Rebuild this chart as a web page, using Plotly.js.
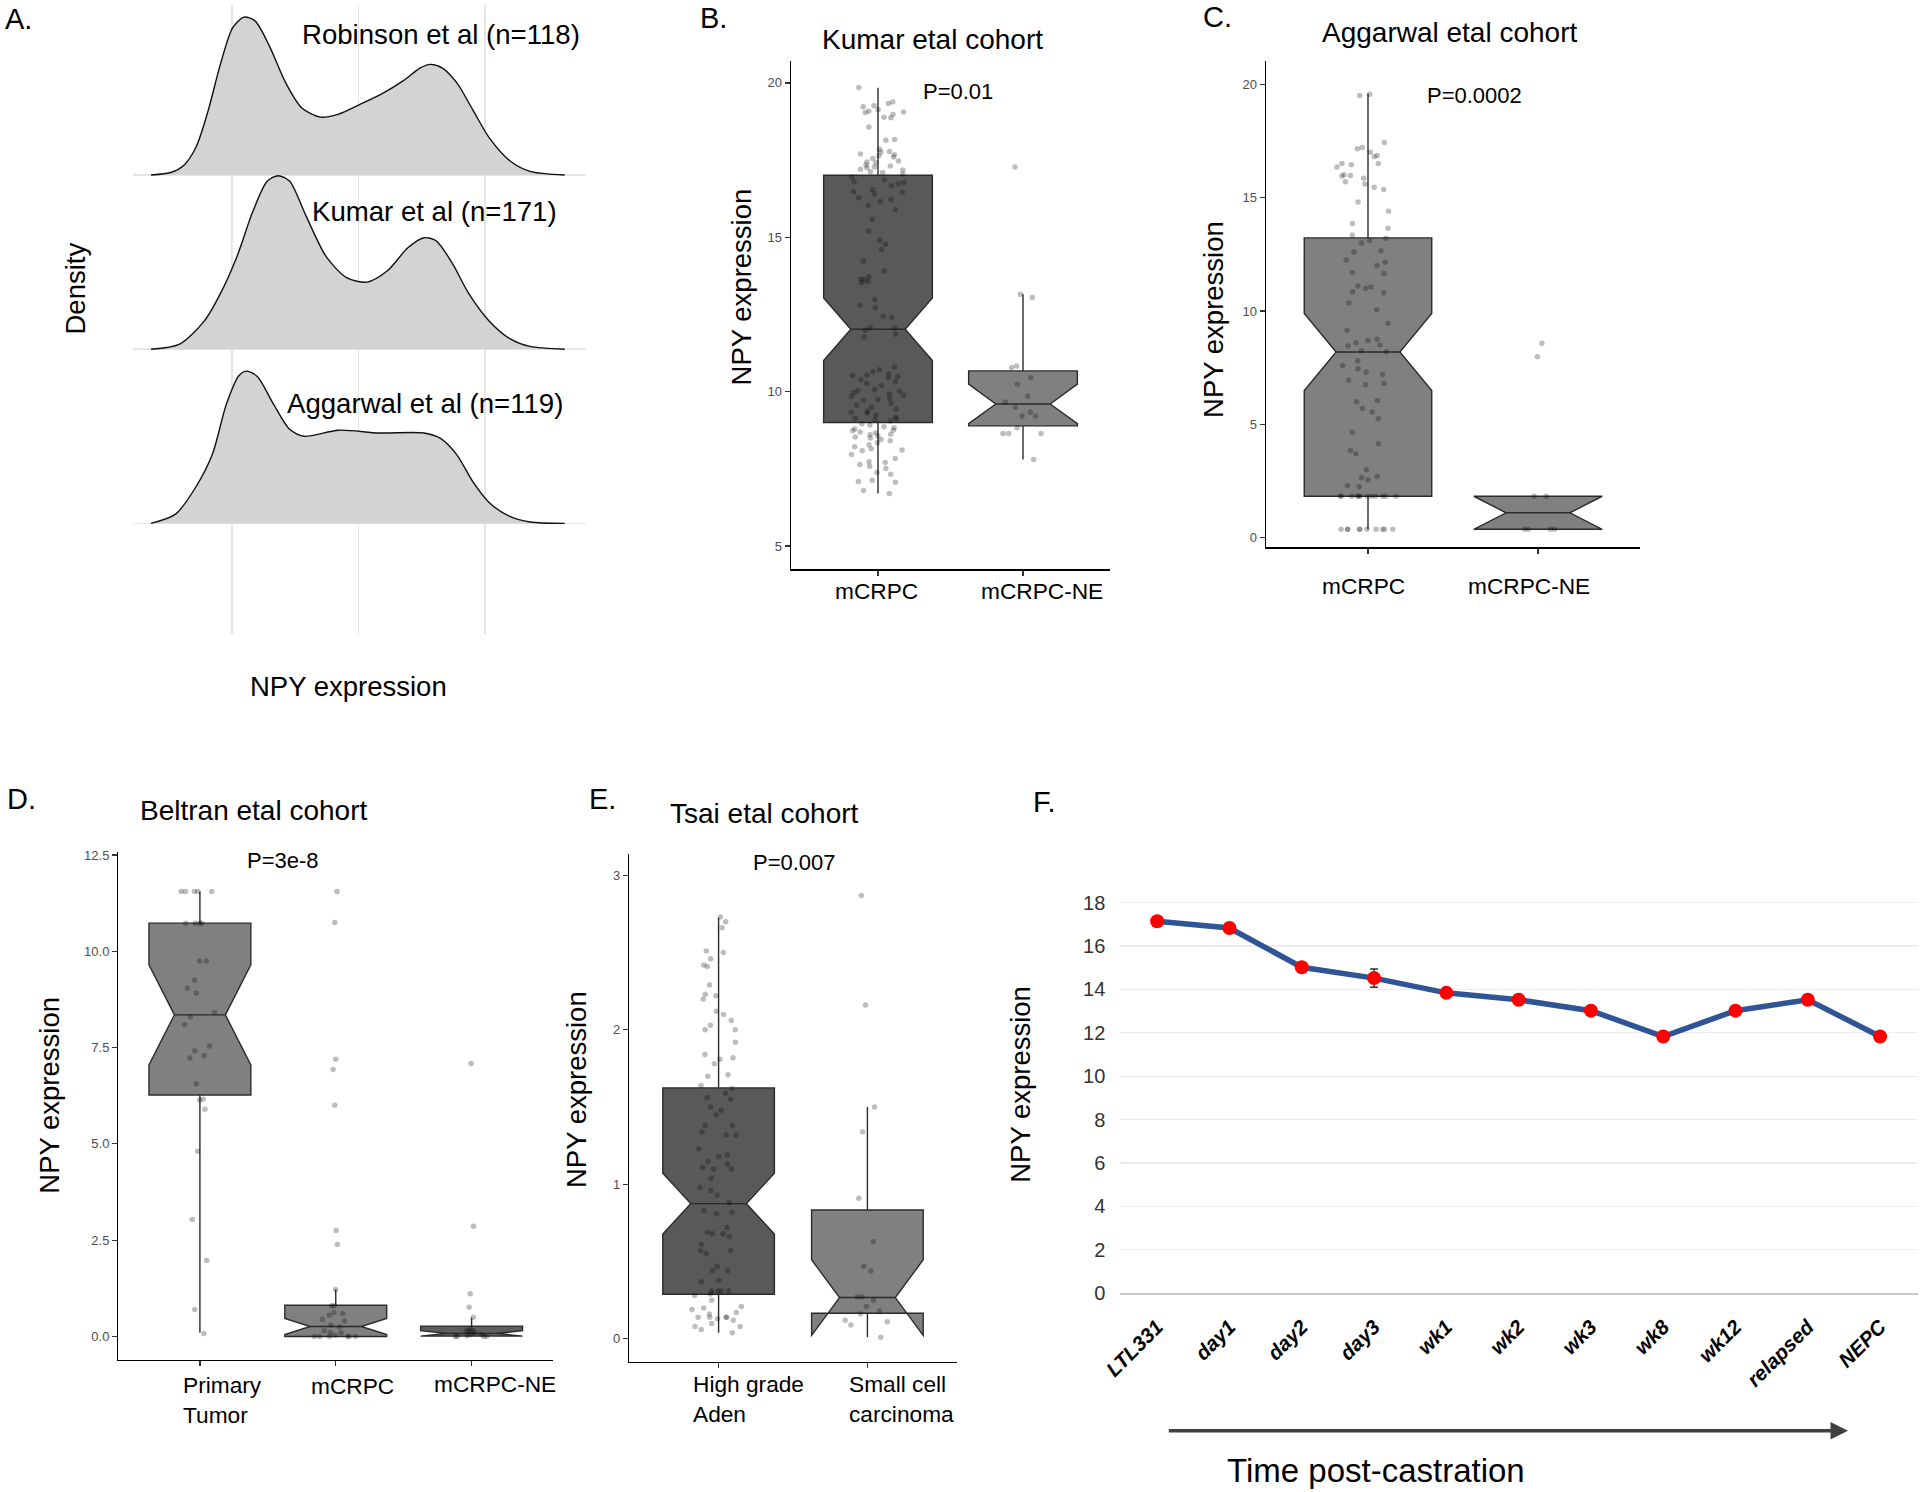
<!DOCTYPE html>
<html><head><meta charset="utf-8">
<script src="https://cdn.plot.ly/plotly-3.0.1.min.js"></script>
<style>html,body{margin:0;padding:0;background:#fff}#chart{width:1920px;height:1492px}</style>
</head><body><div id="chart"></div>
<script>
// ---------- Panel A: density ridges (x in NPY units, height in ridge units) ----------
const robinsonX = [1.80, 2.61, 3.09, 3.58, 4.06, 4.54, 5.03, 5.47, 5.91, 6.48, 7.12, 7.76, 8.49, 9.21, 10.02, 10.90, 11.79, 12.43, 12.84, 13.32, 13.88, 14.53, 15.17, 15.98, 16.78, 18.15];
const robinsonD = [0, 0.016, 0.055, 0.161, 0.371, 0.635, 0.846, 0.906, 0.885, 0.740, 0.530, 0.385, 0.332, 0.350, 0.403, 0.464, 0.543, 0.614, 0.635, 0.614, 0.530, 0.371, 0.213, 0.082, 0.021, 0];
const kumarX = [1.80, 2.93, 3.90, 4.54, 5.19, 5.83, 6.39, 6.83, 7.28, 7.92, 8.73, 9.53, 10.34, 11.14, 11.95, 12.59, 13.07, 13.72, 14.36, 15.17, 15.98, 16.78, 18.15];
const kumarD = [0, 0.029, 0.161, 0.319, 0.530, 0.793, 0.964, 0.996, 0.964, 0.767, 0.530, 0.411, 0.385, 0.450, 0.582, 0.640, 0.622, 0.490, 0.319, 0.161, 0.061, 0.016, 0];
const aggarwalX = [1.80, 2.77, 3.58, 4.22, 4.78, 5.27, 5.59, 6.00, 6.64, 7.28, 7.85, 9.21, 10.82, 12.59, 13.24, 13.88, 14.53, 15.17, 15.98, 16.78, 18.15];
const aggarwalD = [0, 0.053, 0.211, 0.395, 0.685, 0.848, 0.874, 0.843, 0.685, 0.540, 0.500, 0.535, 0.519, 0.519, 0.488, 0.395, 0.237, 0.119, 0.040, 0.008, 0];
const ridgeLabels = ['Robinson et al (n=118)', 'Kumar et al (n=171)', 'Aggarwal et al (n=119)'];

// ---------- Panel B: Kumar cohort ----------
const kumarCats = ['mCRPC', 'mCRPC-NE'];
const kumarStats = { // q1, median, q3, lower, upper, notch half-span
  'mCRPC':    [9.00, 12.02, 17.01, 6.70, 19.84, 1.01],
  'mCRPC-NE': [8.89, 9.60, 10.67, 7.80, 13.15, 0.64]
};
const kumarPts_mCRPC = [19.85, 19.38, 19.33, 19.26, 19.23, 19.13, 19.08, 19.06, 19.04, 18.98, 18.89, 18.87, 18.57, 18.17, 18.14, 17.85, 17.78, 17.76, 17.70, 17.67, 17.64, 17.60, 17.55, 17.47, 17.44, 17.41, 17.34, 17.31, 17.28, 17.25, 17.20, 17.18, 17.12, 17.10, 17.05,
  16.95, 16.86, 16.80, 16.77, 16.73, 16.67, 16.54, 16.48, 16.45, 16.41, 16.28, 16.22, 16.16, 16.03, 15.90, 15.58, 15.20, 14.90, 14.77, 14.60, 14.23, 13.91, 13.72, 13.65, 13.62, 13.57, 13.53, 12.98, 12.80, 12.72, 12.44, 12.40, 12.08, 12.05, 11.99,
  11.86, 11.77, 10.80, 10.71, 10.64, 10.58, 10.54, 10.52, 10.49, 10.45, 10.39, 10.33, 10.26, 10.20, 10.07, 10.03, 10.01, 9.97, 9.92, 9.88, 9.84, 9.78, 9.75, 9.72, 9.62, 9.56, 9.49, 9.43, 9.37, 9.33, 9.30, 9.24, 9.17, 9.14, 9.11, 9.09, 9.05,
  8.96, 8.92, 8.86, 8.83, 8.79, 8.75, 8.73, 8.69, 8.66, 8.62, 8.60, 8.56, 8.53, 8.50, 8.45, 8.41, 8.34, 8.28, 8.21, 8.15, 8.11, 8.08, 7.96, 7.83, 7.73, 7.70, 7.64, 7.58, 7.51, 7.38, 7.32, 7.13, 7.09, 7.06, 6.80, 6.70];
const kumarPts_NE = [17.28, 13.15, 13.05, 10.83, 10.78, 10.45, 10.24, 9.85, 9.66, 9.49, 9.33, 9.21, 9.21, 8.83, 8.64, 8.64, 8.64, 7.80];

// ---------- Panel C: Aggarwal cohort ----------
const aggCats = ['mCRPC', 'mCRPC-NE'];
const aggStats = {
  'mCRPC':    [1.83, 8.19, 13.22, 0.375, 19.58, 1.70],
  'mCRPC-NE': [0.375, 1.10, 1.83, 0.375, 1.83, 0.72]
};
const aggPts_mCRPC = [19.55, 19.50, 17.43, 17.20, 17.15, 17.00, 16.85, 16.80, 16.50, 16.50, 16.45, 16.35, 16.00, 15.97, 15.95, 15.85, 15.70, 15.60, 15.45, 15.35,
  14.80, 14.40, 13.85, 13.65, 13.35, 13.20, 13.10, 13.00, 12.65, 12.60, 12.25, 12.15, 12.00, 11.70, 11.65, 11.10, 11.05, 11.00,
  10.85, 10.80, 10.35, 10.05, 9.45, 9.15, 8.75, 8.70, 8.60, 8.50, 8.45, 8.25, 8.20,
  7.80, 7.60, 7.45, 7.30, 7.20, 6.95, 6.80, 6.75, 6.05, 6.00, 5.70, 5.55, 5.25,
  4.65, 4.15, 3.85, 3.70, 3.00, 2.70, 2.65, 2.55, 2.30, 2.25,
  1.83, 1.83, 1.83, 1.83, 1.83, 1.83, 1.83, 1.83, 1.83, 1.83, 1.83, 1.83,
  0.375, 0.375, 0.375, 0.375, 0.375, 0.375, 0.375, 0.375, 0.375, 0.375];
const aggPts_NE = [8.58, 7.98, 1.83, 1.83, 0.375, 0.375, 0.375, 0.375];

// ---------- Panel D: Beltran cohort ----------
const beltCats = ['Primary Tumor', 'mCRPC', 'mCRPC-NE'];
const beltLabels = ['Primary<br>Tumor', 'mCRPC', 'mCRPC-NE'];
const beltStats = {
  'Primary Tumor': [6.27, 8.35, 10.73, 0.10, 11.55, 1.30],
  'mCRPC':         [0.00, 0.26, 0.81, 0.00, 1.22, 0.21],
  'mCRPC-NE':      [0.01, 0.08, 0.27, 0.00, 0.49, 0.07]
};
const beltPts_Primary = [11.55, 11.55, 11.55, 11.55, 11.55, 10.73, 10.73, 10.73, 10.73, 9.75, 9.75, 9.25, 9.04, 8.92, 8.41, 8.30, 8.09, 7.54, 7.42, 7.29, 7.23, 6.56, 6.16, 6.14, 5.90, 4.81, 3.04, 1.97, 0.70, 0.08];
const beltPts_mCRPC = [11.55, 10.75, 7.20, 6.93, 6.00, 2.75, 2.39, 1.22, 0.80, 0.80, 0.62, 0.60, 0.55, 0.45, 0.40, 0.30, 0.25, 0.15, 0.10, 0.10, 0.03, 0, 0, 0, 0, 0, 0];
const beltPts_NE = [7.09, 2.86, 1.11, 0.76, 0.50, 0.20, 0.15, 0.15, 0.15, 0.10, 0.05, 0.05, 0.02, 0, 0, 0, 0];

// ---------- Panel E: Tsai cohort ----------
const tsaiCats = ['High grade Aden', 'Small cell carcinoma'];
const tsaiLabels = ['High grade<br>Aden', 'Small cell<br>carcinoma'];
const tsaiStats = {
  'High grade Aden':      [0.289, 0.875, 1.624, 0.04, 2.725, 0.197],
  'Small cell carcinoma': [0.166, 0.267, 0.834, 0.01, 1.50, 0.245]
};
const tsaiPts_High = [2.73, 2.70, 2.66, 2.51, 2.50, 2.46, 2.42, 2.41, 2.29, 2.23, 2.22, 2.20, 2.12, 2.10, 2.06, 2.03, 2.00, 2.00, 1.92, 1.84, 1.82, 1.81, 1.78, 1.71, 1.70, 1.64, 1.62, 1.59, 1.56, 1.55, 1.50, 1.48, 1.45, 1.38, 1.38, 1.34, 1.32, 1.32, 1.23, 1.19, 1.18, 1.15, 1.13, 1.11, 1.10, 1.10, 1.04, 0.98, 0.96, 0.93, 0.88, 0.83, 0.82, 0.81, 0.72, 0.69, 0.68, 0.68, 0.66, 0.61, 0.57, 0.57, 0.55, 0.47, 0.44, 0.44, 0.38, 0.37, 0.31, 0.31, 0.31, 0.31, 0.29, 0.28, 0.25, 0.21, 0.20, 0.19, 0.17, 0.16, 0.14, 0.14, 0.14, 0.14, 0.13, 0.12, 0.10, 0.08, 0.08, 0.06, 0.04];
const tsaiPts_Small = [2.87, 2.16, 1.50, 1.34, 0.91, 0.63, 0.47, 0.44, 0.27, 0.27, 0.25, 0.21, 0.18, 0.16, 0.12, 0.11, 0.09, 0.01];

// ---------- Panel F: time course ----------
const timeCats = ['LTL331', 'day1', 'day2', 'day3', 'wk1', 'wk2', 'wk3', 'wk8', 'wk12', 'relapsed', 'NEPC'];
const timeVals = [17.14, 16.83, 15.02, 14.52, 13.84, 13.52, 13.02, 11.83, 13.02, 13.52, 11.83];
const timeErr  = [0, 0, 0, 0.42, 0, 0, 0, 0, 0, 0, 0];

// ================= drawing =================
const FONT = 'Liberation Sans, Arial, Helvetica, sans-serif';
const W = 1920, H = 1492;
const px = v => v / W;
const py = v => 1 - v / H;
const AXT = 27.5, TTL = 28, PV = 22, CAT = 22.7;

const traces = [];

// Panel A ridges
const ridges = [[robinsonX, robinsonD, 2], [kumarX, kumarD, 1], [aggarwalX, aggarwalD, 0]];
ridges.forEach(([xs, ds, off]) => {
  const ys = ds.map(d => d + off);
  traces.push({type: 'scatter', x: xs, y: ys, xaxis: 'x', yaxis: 'y', mode: 'lines', fill: 'toself',
    fillcolor: '#d3d3d3', line: {width: 0, shape: 'spline', smoothing: 0.8}, hoverinfo: 'skip'});
  traces.push({type: 'scatter', x: xs, y: ys, xaxis: 'x', yaxis: 'y', mode: 'lines',
    line: {color: '#111', width: 1.4, shape: 'spline', smoothing: 0.8}, hoverinfo: 'skip'});
});

function addBoxes(ax, cats, stats, fills, pts) {
  cats.forEach((c, i) => {
    const s = stats[c];
    traces.push({type: 'box', xaxis: 'x' + ax, yaxis: 'y' + ax, x: [c],
      q1: [s[0]], median: [s[1]], q3: [s[2]], lowerfence: [s[3]], upperfence: [s[4]], notchspan: [s[5]],
      notched: true, notchwidth: 0.25, boxpoints: false, width: 0.75, whiskerwidth: 0,
      fillcolor: fills[i], line: {color: '#2b2b2b', width: 1.4}, hoverinfo: 'skip'});
  });
  cats.forEach((c, i) => {
    traces.push({type: 'box', xaxis: 'x' + ax, yaxis: 'y' + ax, x: Array(pts[i].length).fill(c), y: pts[i],
      boxpoints: 'all', jitter: 0.5, pointpos: 0, width: 0.75,
      fillcolor: 'rgba(0,0,0,0)', line: {color: 'rgba(0,0,0,0)', width: 0},
      marker: {size: 5.5, color: 'rgba(0,0,0,0.26)'}, hoverinfo: 'skip'});
  });
}
addBoxes(2, kumarCats, kumarStats, ['#595959', '#808080'], [kumarPts_mCRPC, kumarPts_NE]);
addBoxes(3, aggCats, aggStats, ['#808080', '#808080'], [aggPts_mCRPC, aggPts_NE]);
addBoxes(4, beltCats, beltStats, ['#808080', '#808080', '#5e5e5e'], [beltPts_Primary, beltPts_mCRPC, beltPts_NE]);
addBoxes(5, tsaiCats, tsaiStats, ['#595959', '#808080'], [tsaiPts_High, tsaiPts_Small]);

// Panel F
traces.push({type: 'scatter', xaxis: 'x6', yaxis: 'y6', x: timeCats, y: timeVals, mode: 'lines+markers',
  line: {color: '#2f5597', width: 5.5}, marker: {color: '#ff0000', size: 14},
  error_y: {type: 'data', array: timeErr, visible: true, color: '#333', thickness: 1.5, width: 4},
  cliponaxis: false, hoverinfo: 'skip'});

function boxX(dom, cats, range) {
  return {domain: dom, type: 'category', categoryorder: 'array', categoryarray: cats, range: range,
    showline: true, linecolor: '#000', linewidth: 1.4, ticks: 'outside', ticklen: 5, tickwidth: 1.2, tickcolor: '#333',
    showticklabels: false, showgrid: false, zeroline: false, fixedrange: true};
}
function boxY(dom, range, tickvals, fmt) {
  return {domain: dom, range: range, tickvals: tickvals, tickformat: fmt || '',
    showline: true, linecolor: '#000', linewidth: 1.4, ticks: 'outside', ticklen: 5, tickwidth: 1.2, tickcolor: '#333',
    tickfont: {family: FONT, size: 13, color: '#4d4d4d'}, showgrid: false, zeroline: false, fixedrange: true};
}

const layout = {
  width: W, height: H, margin: {l: 0, r: 0, t: 0, b: 0}, paper_bgcolor: '#fff', plot_bgcolor: 'rgba(0,0,0,0)',
  showlegend: false, boxmode: 'overlay', font: {family: FONT, color: '#000'},
  // A
  xaxis: {domain: [px(132.7), px(585.7)], range: [1.075, 18.98], tickvals: [5, 10, 15], showticklabels: false,
    showgrid: true, gridcolor: '#e6e6e6', gridwidth: 1.5, zeroline: false, showline: false, ticks: '', anchor: 'y'},
  yaxis: {domain: [py(633.6), py(5)], range: [-0.6326, 2.976], tickvals: [0, 1, 2], showticklabels: false,
    showgrid: true, gridcolor: '#e6e6e6', gridwidth: 1.5, zeroline: false, showline: false, ticks: '', anchor: 'x'},
  // B
  xaxis2: Object.assign(boxX([px(791), px(1110)], kumarCats, [-0.6, 1.6]), {anchor: 'y2'}),
  yaxis2: Object.assign(boxY([py(569.4), py(61)], [4.24, 20.71], [5, 10, 15, 20]), {anchor: 'x2'}),
  // C
  xaxis3: Object.assign(boxX([px(1266), px(1640)], aggCats, [-0.6, 1.6]), {anchor: 'y3'}),
  yaxis3: Object.assign(boxY([py(547.3), py(61.2)], [-0.42, 21.01], [0, 5, 10, 15, 20]), {anchor: 'x3'}),
  // D
  xaxis4: Object.assign(boxX([px(118.4), px(553.1)], beltCats, [-0.6, 2.6]), {anchor: 'y4'}),
  yaxis4: Object.assign(boxY([py(1360), py(851.5)], [-0.61, 12.59], [0, 2.5, 5, 7.5, 10, 12.5], '.1f'), {anchor: 'x4'}),
  // E
  xaxis5: Object.assign(boxX([px(629.3), px(956.7)], tsaiCats, [-0.6, 1.6]), {anchor: 'y5'}),
  yaxis5: Object.assign(boxY([py(1362), py(853.7)], [-0.15, 3.14], [0, 1, 2, 3]), {anchor: 'x5'}),
  // F
  xaxis6: {domain: [px(1120.3), px(1918.4)], anchor: 'y6', type: 'category', categoryorder: 'array', categoryarray: timeCats,
    range: [-0.51, 10.53], showline: true, linecolor: '#c8c8c8', linewidth: 1.6, ticks: '', tickangle: -45,
    ticklabelstandoff: 12, tickfont: {family: FONT, size: 20.5, color: '#000', weight: 'bold', style: 'italic'},
    showgrid: false, zeroline: false, fixedrange: true},
  yaxis6: {domain: [py(1293.2), py(901.5)], anchor: 'x6', range: [0, 18.05], tickvals: [0, 2, 4, 6, 8, 10, 12, 14, 16, 18],
    showline: false, ticks: '', ticklabelstandoff: 14, tickfont: {family: FONT, size: 20, color: '#333'},
    showgrid: true, gridcolor: '#ececec', gridwidth: 1.2, zeroline: false, fixedrange: true},
  annotations: [],
  shapes: []
};

const ann = layout.annotations;
function txt(text, x, y, size, opts) {
  ann.push(Object.assign({xref: 'paper', yref: 'paper', x: px(x), y: py(y), text: text, showarrow: false,
    xanchor: 'center', yanchor: 'middle', font: {family: FONT, size: size, color: '#000'}}, opts || {}));
}
function catLabels(axis, labels, shifts, ys, anchor) {
  labels.forEach((t, i) => ann.push({xref: axis, yref: 'paper', x: i, y: py(ys[i]), text: t, showarrow: false,
    xanchor: anchor, yanchor: 'middle', align: 'left', xshift: shifts[i], font: {family: FONT, size: CAT, color: '#000'}}));
}
// panel letters
[['A.', 18.5, 19], ['B.', 713, 18], ['C.', 1217, 17], ['D.', 21, 799], ['E.', 602, 799], ['F.', 1044, 802]]
  .forEach(([t, x, y]) => txt(t, x, y, 29));
// Panel A texts
txt(ridgeLabels[0], 581.6, 34.4, 27.6, {xanchor: 'right'});
txt(ridgeLabels[1], 559.2, 211, 27.6, {xanchor: 'right'});
txt(ridgeLabels[2], 565.3, 404, 27.6, {xanchor: 'right'});
txt('Density', 75.5, 289, AXT, {textangle: -90});
txt('NPY expression', 348, 686, AXT);
// B
txt('Kumar etal cohort', 932.5, 39.5, TTL);
txt('P=0.01', 957.5, 91.7, PV);
txt('NPY expression', 741.7, 286.7, AXT, {textangle: -90});
catLabels('x2', kumarCats, [-1.3, 19], [591, 591], 'center');
// C
txt('Aggarwal etal cohort', 1449, 32.5, TTL);
txt('P=0.0002', 1474, 95.7, PV);
txt('NPY expression', 1213.3, 319.6, AXT, {textangle: -90});
catLabels('x3', aggCats, [-4.3, -9], [585.5, 585.5], 'center');
// D
txt('Beltran etal cohort', 253.6, 810.3, TTL);
txt('P=3e-8', 282.7, 860.8, PV);
txt('NPY expression', 50, 1095.7, AXT, {textangle: -90});
catLabels('x4', beltLabels, [-18.5, -27, -40], [1399.5, 1386, 1384], 'left');
// E
txt('Tsai etal cohort', 764.3, 813.7, TTL);
txt('P=0.007', 794, 862.9, PV);
txt('NPY expression', 576.7, 1089.3, AXT, {textangle: -90});
catLabels('x5', tsaiLabels, [-27.3, -20.7], [1398.5, 1398.5], 'left');
// F
txt('NPY expression', 1020.5, 1084.3, AXT, {textangle: -90});
txt('Time post-castration', 1376, 1470, 33);
ann.push({xref: 'paper', yref: 'paper', x: px(1848), y: py(1430.8), ax: -680.7, ay: 0, axref: 'pixel', ayref: 'pixel',
  text: '', showarrow: true, arrowhead: 2, arrowsize: 1, arrowwidth: 3.5, arrowcolor: '#404040'});

Plotly.newPlot('chart', traces, layout, {staticPlot: true, displayModeBar: false});
</script>
</body></html>
